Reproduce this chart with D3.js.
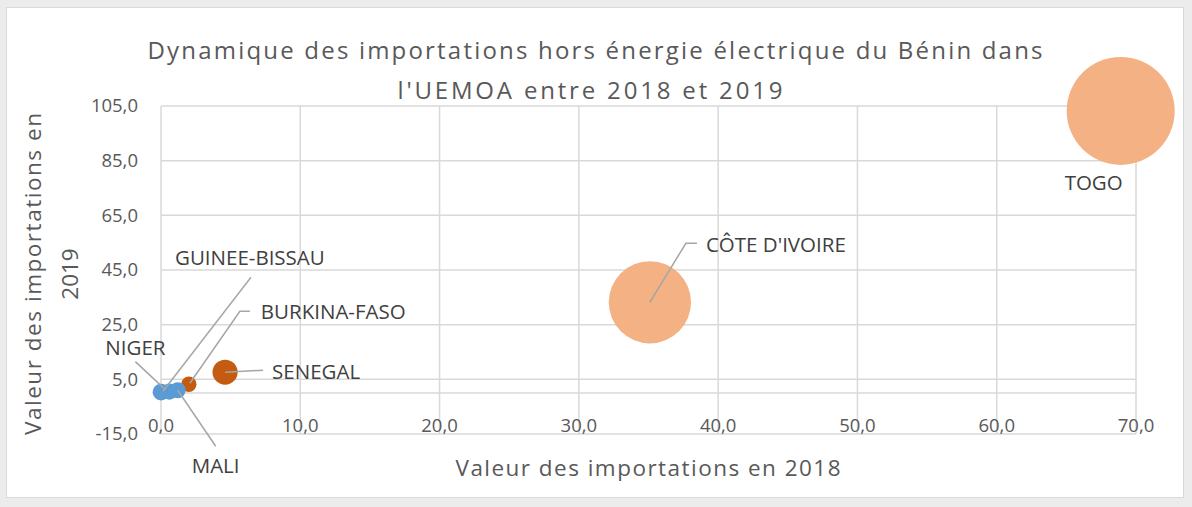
<!DOCTYPE html>
<html>
<head>
<meta charset="utf-8">
<script src="https://cdn.jsdelivr.net/npm/d3@7"></script>
<style>
  html, body { margin: 0; padding: 0; background: #ececec; }
  svg { display: block; }
</style>
</head>
<body>
<svg id="chart" width="1192" height="507"></svg>
<script>
// ---- Data ----
const countries = ["TOGO", "CÔTE D'IVOIRE", "SENEGAL", "BURKINA-FASO", "GUINEE-BISSAU", "NIGER", "MALI"];
const imports2018 = [68.9, 35.1, 4.6, 2.0, 0.0, 0.6, 1.2];
const imports2019 = [103.2, 33.2, 7.6, 3.2, 0.3, 0.5, 1.0];
const bubbleSizes = [100, 58, 5.4, 2.0, 2.4, 2.2, 2.2];
const seriesGroup = [0, 0, 1, 1, 2, 2, 2];
const xTicks = [0, 10, 20, 30, 40, 50, 60, 70];
const yTicks = [-15, 5, 25, 45, 65, 85, 105];
const titleLines = ["Dynamique des importations hors énergie électrique du Bénin dans", "l'UEMOA entre 2018 et 2019"];
const xTitle = "Valeur des importations en 2018";
const yTitleLines = ["Valeur des importations en", "2019"];

// ---- Styles / layout ----
const groupColors = ["#F4B183", "#C55A11", "#5B9BD5"];
// label layout: offsets (px) from bubble centre: text anchor and leader path
const labelLayout = [
  { dx: -27, dy: 79, anchor: "middle", leader: null },
  { dx: 56, dy: -50, anchor: "start", leader: [[47, -59], [36, -59], [0, 0]] },
  { dx: 47, dy: 7, anchor: "start", leader: [[38, -2], [0, 0]] },
  { dx: 72, dy: -65, anchor: "start", leader: [[61, -73], [51, -73], [1, -1]] },
  { dx: 14, dy: -127, anchor: "start", leader: [[90, -115], [2, -1]] },
  { dx: -64, dy: -37, anchor: "start", leader: [[-34, -30], [-4, -2]] },
  { dx: 14, dy: 83, anchor: "start", leader: [[38, 56], [0, 0]] }
];

const svg = d3.select("#chart");
const fmt = d => d.toFixed(1).replace(".", ",");
const font = "'Open Sans', 'DejaVu Sans', sans-serif";

// chart area
svg.append("rect").attr("x", 6.5).attr("y", 7.5).attr("width", 1177).attr("height", 490)
  .attr("fill", "#fff").attr("stroke", "#d9d9d9").attr("stroke-width", 1);

const plot = { left: 161, right: 1136, top: 106, bottom: 434 };
const x = d3.scaleLinear().domain([0, 70]).range([plot.left, plot.right]);
const y = d3.scaleLinear().domain([-15, 105]).range([plot.bottom, plot.top]);
const r = d3.scaleSqrt().domain([0, 100]).range([0, 54]);

const grid = "#d9d9d9";
// horizontal gridlines
svg.append("g").selectAll("line").data(yTicks).join("line")
  .attr("x1", plot.left).attr("x2", plot.right)
  .attr("y1", d => y(d)).attr("y2", d => y(d))
  .attr("stroke", grid).attr("stroke-width", 1.5);
// vertical gridlines
svg.append("g").selectAll("line").data(xTicks).join("line")
  .attr("y1", plot.top).attr("y2", plot.bottom)
  .attr("x1", d => x(d)).attr("x2", d => x(d))
  .attr("stroke", grid).attr("stroke-width", 1.5);
// x axis line at y = 0
svg.append("line").attr("x1", plot.left).attr("x2", plot.right)
  .attr("y1", y(0)).attr("y2", y(0)).attr("stroke", grid).attr("stroke-width", 1.5);

// tick labels
svg.append("g").selectAll("text").data(xTicks).join("text")
  .attr("x", d => x(d)).attr("y", 432)
  .attr("text-anchor", "middle").attr("font-family", font).attr("font-size", 18.5)
  .attr("fill", "#595959").text(fmt);
svg.append("g").selectAll("text").data(yTicks).join("text")
  .attr("x", 138).attr("y", d => y(d)).attr("dy", "0.35em")
  .attr("text-anchor", "end").attr("font-family", font).attr("font-size", 18.5)
  .attr("fill", "#595959").text(fmt);

// bubbles
const pts = countries.map((c, i) => ({
  name: c, cx: x(imports2018[i]), cy: y(imports2019[i]), r: r(bubbleSizes[i]),
  color: groupColors[seriesGroup[i]], lay: labelLayout[i]
}));
svg.append("g").selectAll("circle").data(pts).join("circle")
  .attr("cx", d => d.cx).attr("cy", d => d.cy).attr("r", d => d.r)
  .attr("fill", d => d.color);

// leader lines
svg.append("g").selectAll("path").data(pts.filter(d => d.lay.leader)).join("path")
  .attr("d", d => d3.line()(d.lay.leader.map(p => [d.cx + p[0], d.cy + p[1]])))
  .attr("fill", "none").attr("stroke", "#a6a6a6").attr("stroke-width", 1.5);

// data labels
svg.append("g").selectAll("text").data(pts).join("text")
  .attr("x", d => d.cx + d.lay.dx).attr("y", d => d.cy + d.lay.dy)
  .attr("text-anchor", d => d.lay.anchor)
  .attr("font-family", font).attr("font-size", 20.5).attr("fill", "#404040")
  .text(d => d.name);

// title
svg.append("text").attr("x", 595).attr("y", 59).attr("text-anchor", "middle")
  .attr("font-family", font).attr("font-size", 24).attr("fill", "#595959")
  .attr("textLength", 895).attr("lengthAdjust", "spacing").text(titleLines[0]);
svg.append("text").attr("x", 590).attr("y", 99).attr("text-anchor", "middle")
  .attr("font-family", font).attr("font-size", 24).attr("fill", "#595959")
  .attr("textLength", 385).attr("lengthAdjust", "spacing").text(titleLines[1]);

// x axis title
svg.append("text").attr("x", 648).attr("y", 476).attr("text-anchor", "middle")
  .attr("font-family", font).attr("font-size", 22.5).attr("fill", "#595959")
  .attr("textLength", 385).attr("lengthAdjust", "spacing").text(xTitle);

// y axis title
const yt = svg.append("g").attr("transform", "translate(0,274) rotate(-90)");
yt.append("text").attr("x", 0).attr("y", 41).attr("text-anchor", "middle")
  .attr("font-family", font).attr("font-size", 22.5).attr("fill", "#595959")
  .attr("textLength", 322).attr("lengthAdjust", "spacing").text(yTitleLines[0]);
yt.append("text").attr("x", 0).attr("y", 78).attr("text-anchor", "middle")
  .attr("font-family", font).attr("font-size", 22.5).attr("fill", "#595959")
  .text(yTitleLines[1]);
</script>
</body>
</html>
